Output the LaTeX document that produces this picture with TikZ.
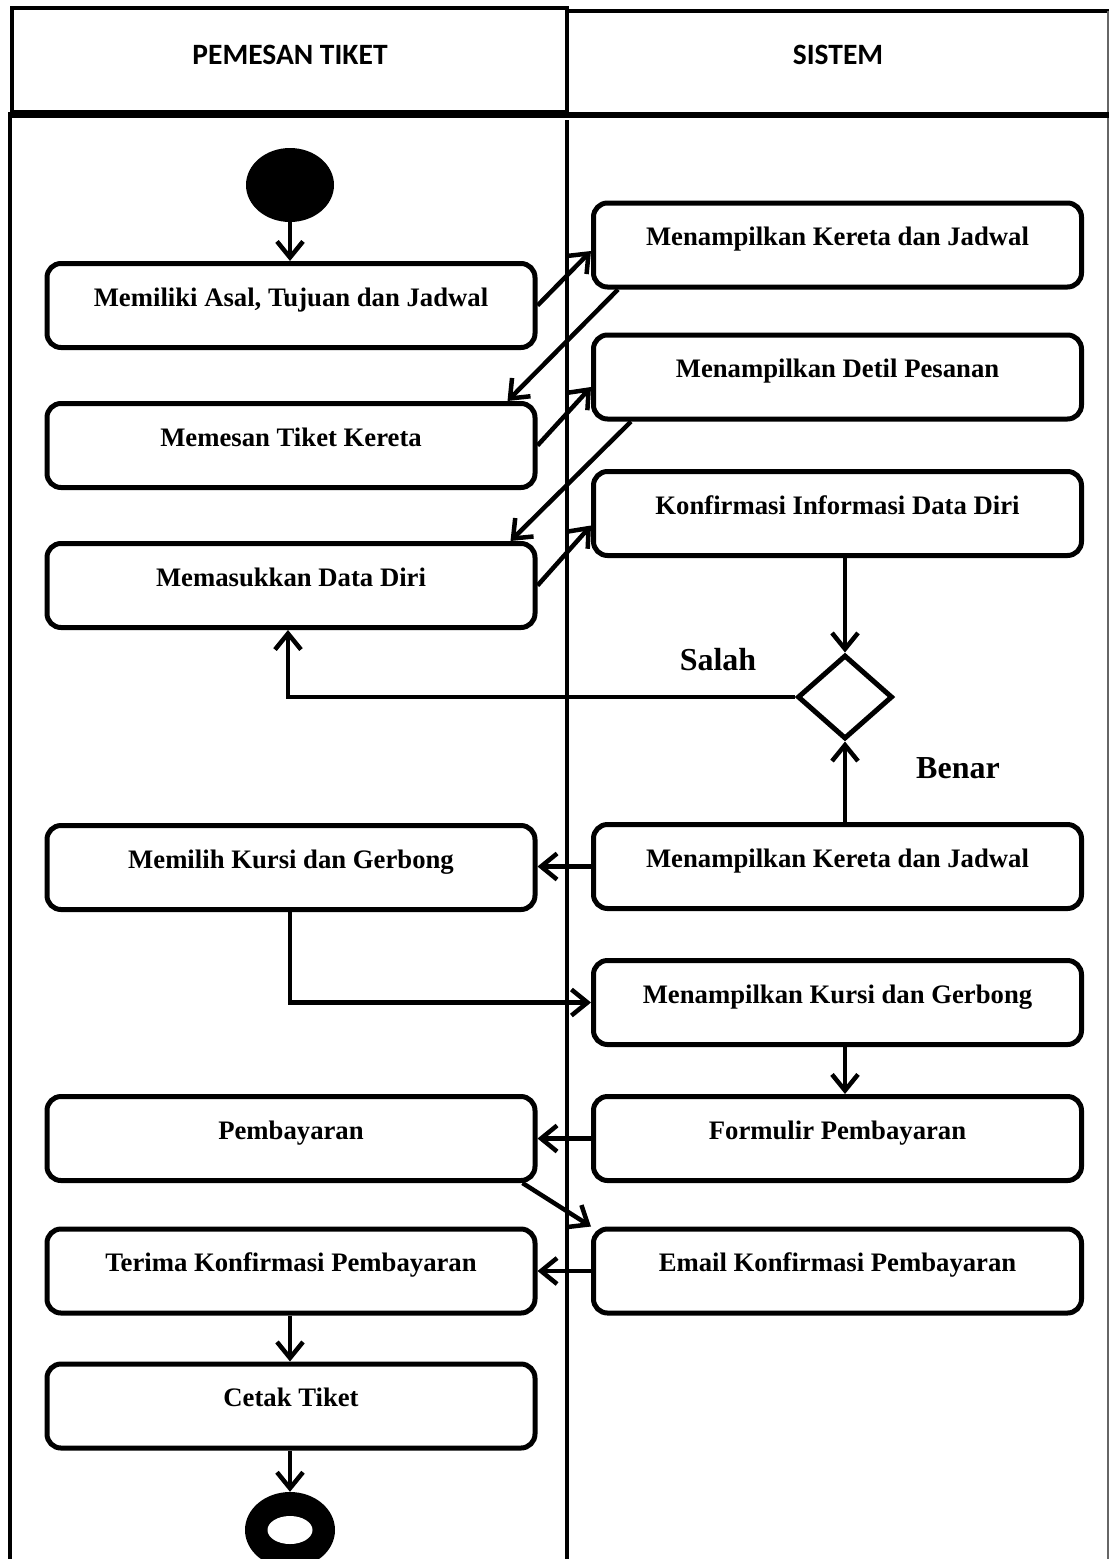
\documentclass[tikz,border=0pt]{standalone}
\usepackage{fontspec}
\setmainfont{Liberation Serif}
\newfontfamily\headfont{Carlito}
\usetikzlibrary{arrows.meta,shapes.geometric}

\tikzset{
  lane/.style={line width=4.5pt},
  actbox/.style={draw, line width=5pt, rounded corners=14pt,
    minimum width=488pt, minimum height=84pt, inner sep=0pt,
    text height=18pt, text depth=17pt,
    font=\bfseries\fontsize{26.7}{30}\selectfont},
  headtxt/.style={font=\headfont\bfseries\fontsize{29.5}{33}\selectfont},
  guard/.style={font=\bfseries\fontsize{32}{36}\selectfont},
  flow/.style={line width=4.5pt, -{Straight Barb[length=16pt,width=26pt]}},
  decision/.style={draw, diamond, line width=5pt, minimum width=95pt,
    minimum height=84pt, inner sep=0pt},
}

\begin{document}
\begin{tikzpicture}[x=1pt,y=-1pt]
\useasboundingbox (0,0) rectangle (1109,1559);

% swimlane headers and borders
\draw[lane] (12,8) rectangle (567,112);
\draw[lane] (567,11) -- (1109,11);
\draw[line width=1.2pt, black!60] (1108,11) -- (1108,1559);
\draw[line width=6pt] (8,115) -- (1109,115);
\draw[lane] (10,115) -- (10,1559);
\draw[lane] (567,120) -- (567,1559);
\node[headtxt] (h1) at (290,55) {PEMESAN TIKET};
\node[headtxt] (h2) at (838,55) {SISTEM};

% initial and final states
\node[ellipse, fill=black, minimum width=88pt, minimum height=74pt, inner sep=0pt] (start) at (290,185) {};
\node[ellipse, fill=black, minimum width=90pt, minimum height=76pt, inner sep=0pt] (stop) at (290,1530) {};
\fill[white] (stop.center) ellipse [x radius=22.5, y radius=14];

% customer lane
\node[actbox] (a1) at (291,305.5) {Memiliki Asal, Tujuan dan Jadwal};
\node[actbox] (a2) at (291,445.5) {Memesan Tiket Kereta};
\node[actbox] (a3) at (291,585.5) {Memasukkan Data Diri};
\node[actbox] (a4) at (291,867.5) {Memilih Kursi dan Gerbong};
\node[actbox] (a5) at (291,1138.5) {Pembayaran};
\node[actbox] (a6) at (291,1271) {Terima Konfirmasi Pembayaran};
\node[actbox] (a7) at (291,1406) {Cetak Tiket};

% system lane
\node[actbox] (s1) at (837.5,245) {Menampilkan Kereta dan Jadwal};
\node[actbox] (s2) at (837.5,377) {Menampilkan Detil Pesanan};
\node[actbox] (s3) at (837.5,513.5) {Konfirmasi Informasi Data Diri};
\node[decision] (d) at (845,697) {};
\node[actbox] (s4) at (837.5,866.5) {Menampilkan Kereta dan Jadwal};
\node[actbox] (s5) at (837.5,1002.5) {Menampilkan Kursi dan Gerbong};
\node[actbox] (s6) at (837.5,1138.5) {Formulir Pembayaran};
\node[actbox] (s7) at (837.5,1271) {Email Konfirmasi Pembayaran};

\node[guard] (salah) at (718,660) {Salah};
\node[guard] (benar) at (958,768) {Benar};

% control flow
\draw[flow] (start) -- (start |- a1.north);
\draw[flow] (a1.east) -- ([yshift=-6pt]s1.west);
\draw[flow] ([xshift=27pt]s1.south west) -- ([xshift=-30pt]a2.north east);
\draw[flow] (a2.east) -- ([yshift=-10pt]s2.west);
\draw[flow] ([xshift=40pt]s2.south west) -- ([xshift=-27pt]a3.north east);
\draw[flow] (a3.east) -- ([yshift=-12pt]s3.west);
\draw[flow] (s3.south -| d.north) -- (d.north);
\draw[flow] (d.west) -| ([xshift=-3pt]a3.south);
\draw[flow] (s4.north -| d.south) -- (d.south);
\draw[flow] (s4.west) -- (s4.west -| a4.east);
\draw[flow] ([xshift=-1pt]a4.south) |- (s5.west);
\draw[flow] ([xshift=7.5pt]s5.south) -- ([xshift=7.5pt]s6.north);
\draw[flow] (s6.west) -- (a5.east);
\draw[flow] ([xshift=-15pt]a5.south east) -- (s7.north west);
\draw[flow] (s7.west) -- (a6.east);
\draw[flow] ([xshift=-1pt]a6.south) -- ([xshift=-1pt]a7.north);
\draw[flow] (a7.south -| stop.north) -- (stop.north);
\end{tikzpicture}
\end{document}
